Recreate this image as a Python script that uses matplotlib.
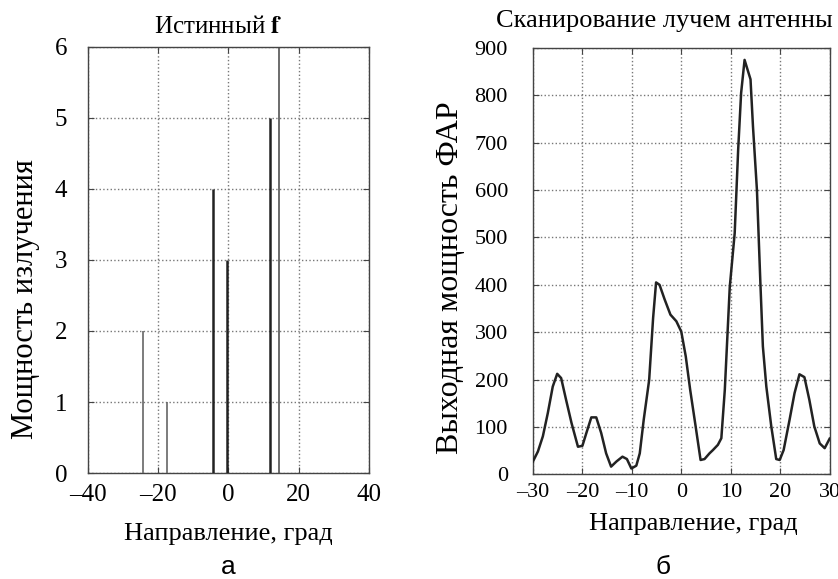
import matplotlib.pyplot as plt
from matplotlib.ticker import FuncFormatter

# True source directions (deg) and powers
src_angle = [-24.4, -17.6, -4.5, -0.3, 11.8, 14.3]
src_power = [2, 1, 4, 3, 5, 6]
src_width = [1.2, 1.2, 1.8, 1.8, 1.8, 1.1]
src_color = ['#666666', '#666666', '#222222', '#222222', '#222222', '#444444']

# Scanned beam output power
scan_angle = [-30, -29, -28, -27, -26, -25.1, -24.3, -23.3, -22.2, -20.9, -20,
              -19.2, -18.2, -17.2, -16.2, -15.2, -14.2, -13.1, -11.9, -11, -10.1,
              -9.1, -8.4, -7.6, -6.5, -5.7, -5.1, -4.4, -3.4, -2.2, -1, 0, 0.9,
              1.8, 2.9, 3.9, 4.7, 5.7, 6.4, 7.4, 8.1, 8.8, 9.8, 10.8, 11.5, 12.1,
              12.8, 13.5, 14.0, 14.5, 15.3, 16, 16.5, 17.2, 18.2, 19.2, 19.9,
              20.7, 21.9, 22.9, 23.9, 24.9, 25.9, 26.9, 28.0, 29, 30]
scan_power = [27, 48, 80, 129, 185, 212, 203, 157, 108, 58, 60,
              87, 120, 120, 87, 44, 16, 27, 37, 32, 12,
              18, 44, 115, 199, 330, 405, 400, 370, 337, 323, 301, 249,
              178, 101, 30, 32, 44, 51, 62, 76, 178, 395, 509, 685, 805,
              875, 851, 834, 734, 600, 403, 270, 185, 101, 32, 30,
              51, 115, 171, 211, 205, 157, 101, 65, 55, 75]

plt.rcParams['font.family'] = ['Liberation Serif', 'DejaVu Serif']
plt.rcParams['mathtext.fontset'] = 'stix'
dash = FuncFormatter(lambda v, p: ('%g' % v).replace('-', '\u2013'))

fig = plt.figure(figsize=(8.38, 5.79), dpi=100)
ax1 = fig.add_axes([0.105, 0.183, 0.335, 0.736])
ax2 = fig.add_axes([0.636, 0.181, 0.354, 0.736])

for a, p, w, c in zip(src_angle, src_power, src_width, src_color):
    ax1.vlines(a, 0, p, colors=c, linewidth=w, zorder=3)
ax1.set_xlim(-40, 40)
ax1.set_ylim(0, 6)
ax1.set_xticks([-40, -20, 0, 20, 40])
ax1.set_yticks(range(0, 7))
ax1.set_title('Истинный $\\mathbf{f}$', fontsize=18, x=0.463, pad=10)
ax1.set_xlabel('Направление, град', fontsize=19)
ax1.xaxis.set_label_coords(0.5, -0.117)
ax1.set_ylabel('Мощность излучения', fontsize=22, va='center')
ax1.yaxis.set_label_coords(-0.224, 0.408)

ax2.plot(scan_angle, scan_power, color='#222222', linewidth=1.8, zorder=3)
ax2.set_xlim(-30, 30)
ax2.set_ylim(0, 900)
ax2.set_xticks(range(-30, 31, 10))
ax2.set_yticks(range(0, 901, 100))
ax2.set_title('Сканирование лучем антенны', fontsize=19, x=0.444, pad=15)
ax2.set_xlabel('Направление, град', fontsize=19)
ax2.xaxis.set_label_coords(0.542, -0.0915)
ax2.set_ylabel('Выходная мощность ФАР', fontsize=23, va='center')
ax2.yaxis.set_label_coords(-0.279, 0.46)

for ax, ts, xp, yp in ((ax1, 18, 8, 15), (ax2, 16, 6, 18)):
    ax.grid(True, linestyle=':', color='#777777', linewidth=1.0)
    ax.xaxis.set_major_formatter(dash)
    ax.tick_params(direction='in', length=4, top=True, right=True,
                   labelsize=ts, color='#444444')
    ax.tick_params(axis='x', pad=xp)
    ax.tick_params(axis='y', pad=yp)
    for s in ax.spines.values():
        s.set_color('#444444')
        s.set_linewidth(1.0)

fig.text(0.272, 0.021, 'а', fontsize=19, family='Liberation Sans',
         ha='center', va='center')
fig.text(0.791, 0.021, 'б', fontsize=19, family='Liberation Sans',
         ha='center', va='center')

fig.savefig('out.png', dpi=100)
